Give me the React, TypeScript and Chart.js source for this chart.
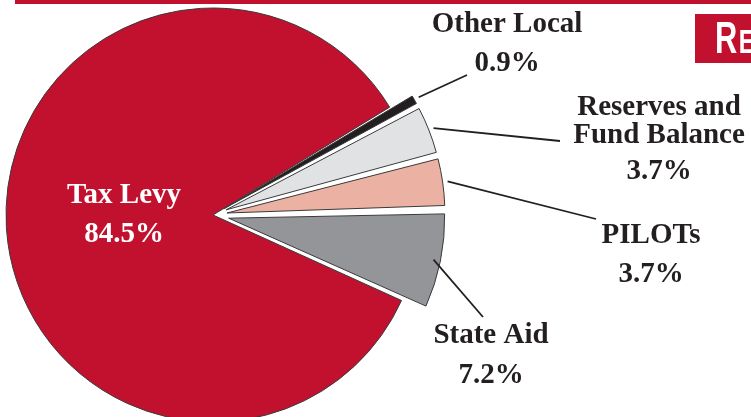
import React, { useEffect, useRef } from "react";
import { Chart, registerables } from "chart.js";

Chart.register(...registerables);

// ---- data ----
const categories = ["Tax Levy", "Other Local", "Reserves and Fund Balance", "PILOTs", "State Aid"];
const shares = [84.5, 0.9, 3.7, 3.7, 7.2];
const labelLines = [["Tax Levy"], ["Other Local"], ["Reserves and", "Fund Balance"], ["PILOTs"], ["State Aid"]];
const sliceColors = ["#C2112F", "#231F20", "#E1E2E3", "#EBB2A4", "#939598"];
const headerWord = "REVENUES";

// ---- layout / style ----
const W = 751;
const H = 417;
const RED = "#C2112F";
const INK = "#231F20";
const PIE_RADIUS = 207;
const EXPLODE = 25; // px shift of the small slices
const GAP_CENTER_DEG = -3.5; // screen angle of the exploded group centre
const labelLayout = [
  { x: 124, baselines: [203, 242], color: "#FFFFFF", leaderEnd: null as null | number[], gap: 0 },
  { x: 507, baselines: [32, 71], color: INK, leaderEnd: [467, 75], gap: 5 },
  { x: 659, baselines: [115, 143, 179], color: INK, leaderEnd: [560, 141], gap: 5 },
  { x: 651, baselines: [243, 282], color: INK, leaderEnd: [596, 219], gap: 5 },
  { x: 491, baselines: [343, 383], color: INK, leaderEnd: [483, 317], gap: -7 },
];

const total = shares.reduce((a, b) => a + b, 0);
const shiftFactor = (circ: number) => (2 - Math.sin(Math.min(Math.PI, circ))) / 4;
const sliceOffsets = shares.map((v, i) =>
  i === 0 ? 0 : EXPLODE / shiftFactor((v / total) * Math.PI * 2)
);
const rotationDeg = 90 + GAP_CENTER_DEG + ((total - shares[0]) / total) * 180;

const overlayPlugin = {
  id: "overlay",
  afterDraw(chart: any) {
    const ctx: CanvasRenderingContext2D = chart.ctx;
    ctx.save();
    // top rule
    ctx.fillStyle = RED;
    ctx.fillRect(15, 0, W - 15, 4);
    // header box
    ctx.fillRect(695, 14, W - 695, 49);
    ctx.fillStyle = "#FFFFFF";
    ctx.textAlign = "left";
    ctx.textBaseline = "alphabetic";
    ctx.save();
    ctx.translate(715, 53);
    ctx.scale(0.7, 1);
    ctx.font = 'bold 44px "Liberation Sans", sans-serif';
    ctx.fillText(headerWord[0], 0, 0);
    const rw = ctx.measureText(headerWord[0]).width;
    ctx.font = 'bold 34px "Liberation Sans", sans-serif';
    ctx.fillText(headerWord.slice(1), rw + 2, 0);
    ctx.restore();

    // leader lines
    const meta = chart.getDatasetMeta(0);
    ctx.strokeStyle = INK;
    ctx.lineWidth = 1.8;
    meta.data.forEach((arc: any, i: number) => {
      const lay = labelLayout[i];
      if (!lay.leaderEnd) return;
      const p = arc.getProps(["x", "y", "startAngle", "endAngle", "outerRadius"], true);
      const mid = (p.startAngle + p.endAngle) / 2;
      const circ = p.endAngle - p.startAngle;
      const shift = (arc.options.offset || 0) * shiftFactor(circ);
      const r = p.outerRadius + shift + lay.gap;
      ctx.beginPath();
      ctx.moveTo(p.x + Math.cos(mid) * r, p.y + Math.sin(mid) * r);
      ctx.lineTo(lay.leaderEnd[0], lay.leaderEnd[1]);
      ctx.stroke();
    });

    // labels
    ctx.textAlign = "center";
    ctx.font = 'bold 29px "Liberation Serif", serif';
    labelLines.forEach((lines, i) => {
      const lay = labelLayout[i];
      ctx.fillStyle = lay.color;
      const all = [...lines, shares[i].toFixed(1) + "%"];
      all.forEach((t, k) => ctx.fillText(t, lay.x, lay.baselines[k]));
    });
    ctx.restore();
  },
};

export default function App() {
  const ref = useRef<HTMLCanvasElement | null>(null);
  useEffect(() => {
    if (!ref.current) return;
    const chart = new Chart(ref.current, {
      type: "pie",
      data: {
        labels: categories,
        datasets: [
          {
            data: shares,
            backgroundColor: sliceColors,
            borderColor: "#3A3A3A",
            borderWidth: 1,
            offset: sliceOffsets,
            hoverOffset: 0,
            clip: false,
          } as any,
        ],
      },
      options: {
        responsive: false,
        animation: false,
        radius: PIE_RADIUS,
        rotation: rotationDeg,
        layout: { padding: { left: 0, right: W - 426, top: 13, bottom: 0 } },
        plugins: { legend: { display: false }, tooltip: { enabled: false } },
      } as any,
      plugins: [overlayPlugin],
    });
    return () => chart.destroy();
  }, []);
  return (
    <div style={{ position: "absolute", left: 0, top: 0, width: W, height: H, overflow: "hidden", background: "#fff" }}>
      <canvas ref={ref} width={W} height={H} style={{ width: W, height: H, display: "block" }} />
    </div>
  );
}
